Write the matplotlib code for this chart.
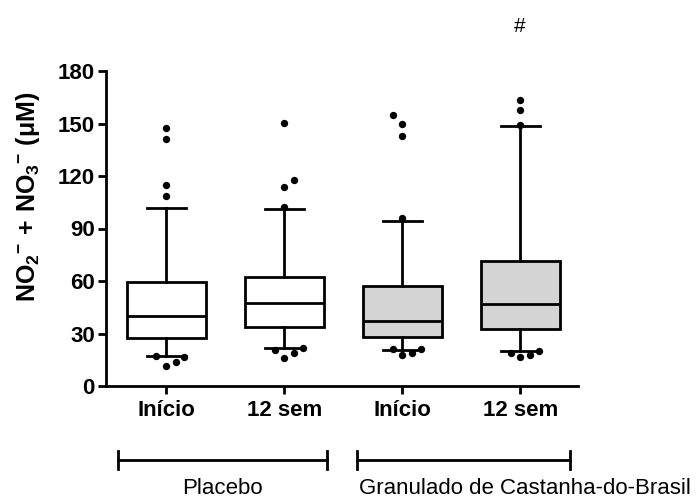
import matplotlib
matplotlib.use("Agg")
import matplotlib.pyplot as plt
import numpy as np

plt.rcParams['font.family'] = ['Liberation Sans', 'DejaVu Sans']
plt.rcParams['mathtext.fontset'] = 'custom'
plt.rcParams['mathtext.rm'] = 'Liberation Sans:bold'
plt.rcParams['mathtext.bf'] = 'Liberation Sans:bold'
plt.rcParams['mathtext.it'] = 'Liberation Sans:bold'
plt.rcParams['mathtext.sf'] = 'Liberation Sans:bold'
plt.rcParams['mathtext.default'] = 'rm'

# ---- data ----
categories = ["Início", "12 sem", "Início", "12 sem"]
groups = ["Placebo", "Granulado de Castanha-do-Brasil"]
q1 = [27.2, 33.5, 28.2, 32.4]
median = [40.0, 47.4, 37.3, 47.0]
q3 = [59.6, 62.1, 57.1, 71.4]
whisk_lo = [17.1, 21.7, 20.6, 20.0]
whisk_hi = [101.9, 101.1, 94.1, 148.6]
outliers = [
    [147.6, 141.0, 114.9, 108.8, 17.1, 16.8, 11.4, 13.7],
    [150.5, 113.9, 117.5, 102.5, 20.6, 21.5, 16.2, 18.7],
    [154.9, 149.7, 142.7, 96.2, 21.0, 21.0, 17.5, 19.0],
    [163.2, 157.7, 149.1, 18.7, 20.0, 16.8, 17.7],
]
# horizontal scatter of outlier dots (layout only)
outlier_dx = [
    [0, 0, 0, 0, -0.09, 0.15, 0, 0.08],
    [0, 0, 0.08, 0, -0.08, 0.16, 0, 0.08],
    [-0.08, 0, 0, 0, -0.08, 0.16, 0, 0.08],
    [0, 0, 0, -0.08, 0.16, 0, 0.08],
]
fills = ["white", "white", "#d4d4d4", "#d4d4d4"]
yticks = [0, 30, 60, 90, 120, 150, 180]

fig = plt.figure(figsize=(6.97, 4.99), dpi=100)
ax = fig.add_axes([106/697, 1-386/499, (578-106)/697, (386-71)/499])

positions = np.arange(1, len(categories) + 1)
stats = []
for i in range(len(categories)):
    stats.append(dict(med=median[i], q1=q1[i], q3=q3[i],
                      whislo=whisk_lo[i], whishi=whisk_hi[i], fliers=[]))

lw = 2.0
bp = ax.bxp(stats, positions=positions, widths=0.67, patch_artist=True,
            showfliers=False,
            boxprops=dict(linewidth=lw, edgecolor='black'),
            medianprops=dict(linewidth=lw, color='black'),
            whiskerprops=dict(linewidth=lw, color='black'),
            capprops=dict(linewidth=lw, color='black'),
            capwidths=0.33)
for patch, fc in zip(bp['boxes'], fills):
    patch.set_facecolor(fc)

for i, (vals, dxs) in enumerate(zip(outliers, outlier_dx)):
    xs = positions[i] + np.array(dxs)
    ax.scatter(xs, vals, s=28, color='black', zorder=5, linewidths=0)

ax.set_xlim(0.49, 4.49)
ax.set_ylim(0, 180)
ax.set_yticks(yticks)
ax.set_yticklabels([str(t) for t in yticks], fontsize=16, fontweight='bold')
ax.set_xticks(positions)
ax.set_xticklabels(categories, fontsize=16, fontweight='bold')
ax.spines['top'].set_visible(False)
ax.spines['right'].set_visible(False)
for s in ['left', 'bottom']:
    ax.spines[s].set_linewidth(lw)
ax.tick_params(axis='both', width=lw, length=6, direction='out')
ax.tick_params(axis='x', pad=4)
ax.tick_params(axis='y', pad=2)

fig.text(28/697, 1-197/499, r'$NO_2{}^{-}\,+\,NO_3{}^{-}\ (μM)$',
         rotation=90, ha='center', va='center', fontsize=18, fontweight='bold')

# group brackets
trans = ax.get_xaxis_transform()
brackets = [(0.59, 2.36), (2.62, 4.42)]
label_x = [1.475, 4.04]
ybr = (386-460)/315
ylab = (386-488)/315
tick_h = 9/315
for (x0, x1), g, lx in zip(brackets, groups, label_x):
    ax.plot([x0, x1], [ybr, ybr], color='black', lw=lw, transform=trans, clip_on=False)
    for xx in (x0, x1):
        ax.plot([xx, xx], [ybr - tick_h, ybr + tick_h], color='black', lw=lw,
                transform=trans, clip_on=False)
    ax.text(lx, ylab, g, ha='center', va='center', fontsize=16,
            transform=trans)

ax.text(positions[3], (386-27)/315, "#", ha='center', va='center', fontsize=15,
        transform=trans)

fig.savefig("out.png", dpi=100)
